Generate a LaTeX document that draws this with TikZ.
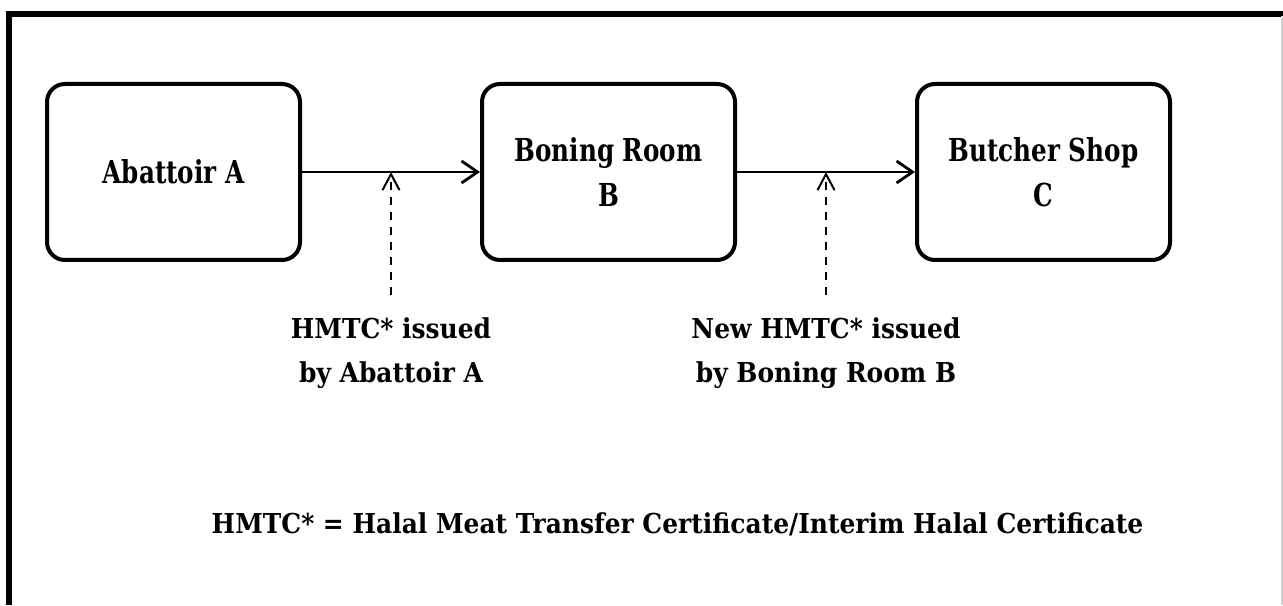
\documentclass[tikz,border=0pt]{standalone}
\usepackage{fontspec}
\setmainfont{DejaVu Serif}[FakeStretch=0.91]
\newfontfamily\premisefont{DejaVu Serif}[FakeStretch=0.78]
\usetikzlibrary{positioning,arrows.meta}
\tikzset{
	hmtcbox/.style={
		draw,
		line width=2pt,
		rounded corners=9pt,
		align=center,
		minimum width=126.5pt,
		minimum height=88pt,
		inner sep=0pt,
		font=\premisefont\bfseries\fontsize{15.8pt}{22.5pt}\selectfont
	},
	hmtcNote/.style={
		align=center,
		inner sep=0pt,
		font=\bfseries\fontsize{13.7pt}{22pt}\selectfont
	},
	hmtcFlow/.style={-{Straight Barb[length=8pt,width=11pt]}, line width=1.4pt},
	hmtcIssue/.style={-{Straight Barb[length=8pt,width=8.5pt]}, line width=1pt, dash pattern=on 4pt off 3.5pt},
	hmtcFrame/.style={line width=2.6pt}
}
\begin{document}
\begin{tikzpicture}[x=0.5pt, y=0.5pt, node distance=89pt]

	\useasboundingbox (0,0) rectangle (1283,605);

	% Frame
	\draw[hmtcFrame] (9,0) |- (1283,591);
	\draw[gray!35, line width=0.6pt] (1282,0) -- (1282,589);

	% Premises
	\node[hmtcbox] (abattoir) at (173.5,433) {Abattoir A};
	\node[hmtcbox, right=of abattoir] (boning) {Boning Room\\B};
	\node[hmtcbox, right=of boning] (butcher) {Butcher Shop\\C};

	% Meat flow
	\draw[hmtcFlow] (abattoir) -- coordinate[midway] (issueA) (boning);
	\draw[hmtcFlow] (boning) -- coordinate[midway] (issueB) (butcher);

	% Certificates
	\node[hmtcNote, below=72.5pt of issueA] (certA) {HMTC* issued\\by Abattoir A};
	\node[hmtcNote, below=72.5pt of issueB] (certB) {New HMTC* issued\\by Boning Room B};

	\draw[hmtcIssue, shorten <=11pt] (certA) -- (issueA);
	\draw[hmtcIssue, shorten <=11pt] (certB) -- (issueB);

	% Legend
	\node[hmtcNote, anchor=base] (legend) at (677.5,72)
	{HMTC* = Halal Meat Transfer Certificate/Interim Halal Certificate};

\end{tikzpicture}
\end{document}
